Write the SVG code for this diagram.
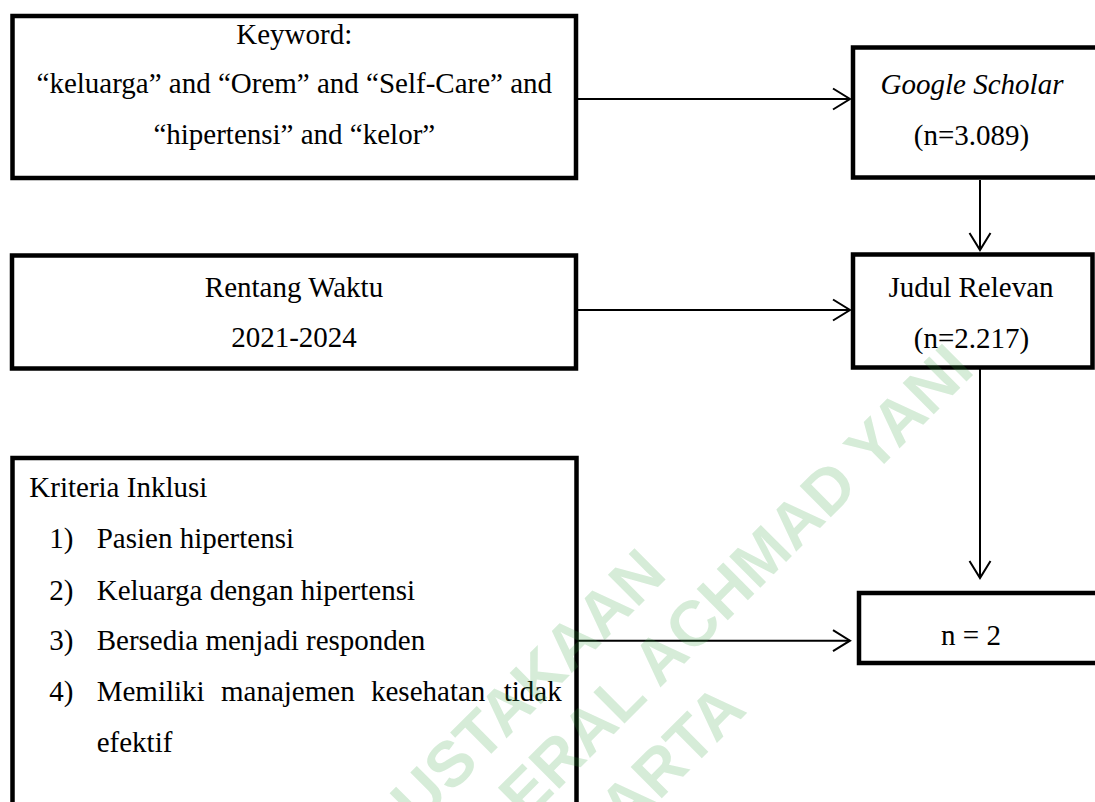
<svg xmlns="http://www.w3.org/2000/svg" width="1095" height="802" viewBox="0 0 1095 802">
<style>
.box{fill:none;stroke:#000;stroke-width:4.5}
.t{font-family:"Liberation Serif","Times New Roman",serif;font-size:29px;fill:#000}
.c{text-anchor:middle}
.conn{fill:none;stroke:#000;stroke-width:2}
.wm{font-family:"Liberation Sans",Arial,sans-serif;font-weight:bold;font-size:64px;fill:rgb(50,160,60);fill-opacity:0.2}
</style>
<defs>
<marker id="arr" markerUnits="userSpaceOnUse" markerWidth="24" markerHeight="26" refX="18" refY="12" orient="auto" overflow="visible">
<path d="M1,1.5 L18,12 L1,22.5" fill="none" stroke="#000" stroke-width="2"/>
</marker>
</defs>
<rect width="1095" height="802" fill="#fff"/>
<g id="connectors">
<path class="conn" d="M576,99 H850" marker-end="url(#arr)"/>
<path class="conn" d="M576,310 H850" marker-end="url(#arr)"/>
<path class="conn" d="M576.5,640.7 H850" marker-end="url(#arr)"/>
<path class="conn" d="M980,180 V250" marker-end="url(#arr)"/>
<path class="conn" d="M980,368 V578" marker-end="url(#arr)"/>
</g>
<g id="keyword">
<rect class="box" x="12.5" y="16" width="563.5" height="162"/>
<text class="t c" x="294.3" y="44">Keyword:</text>
<text class="t c" x="294.3" y="93.3">“keluarga” and “Orem” and “Self-Care” and</text>
<text class="t c" x="294.3" y="144">“hipertensi” and “kelor”</text>
</g>
<g id="rentang">
<rect class="box" x="12" y="255.5" width="564" height="113"/>
<text class="t c" x="294" y="296.7">Rentang Waktu</text>
<text class="t c" x="294" y="347.3">2021-2024</text>
</g>
<g id="kriteria">
<rect class="box" x="12.5" y="458" width="564" height="360"/>
<text class="t" x="29.3" y="497.3">Kriteria Inklusi</text>
<text class="t" x="49.3" y="548.3">1)</text>
<text class="t" x="96.7" y="548.3">Pasien hipertensi</text>
<text class="t" x="49.3" y="600">2)</text>
<text class="t" x="96.7" y="600">Keluarga dengan hipertensi</text>
<text class="t" x="49.3" y="650">3)</text>
<text class="t" x="96.7" y="650">Bersedia menjadi responden</text>
<text class="t" x="49.3" y="701">4)</text>
<text class="t" y="701"><tspan x="96.7">Memiliki</tspan><tspan x="221">manajemen</tspan><tspan x="371">kesehatan</tspan><tspan x="503.7">tidak</tspan></text>
<text class="t" x="96.7" y="751.7">efektif</text>
</g>
<g id="google">
<rect class="box" x="853" y="47.5" width="250" height="130"/>
<text class="t c" x="972" y="93.5" font-style="italic">Google Scholar</text>
<text class="t c" x="971.5" y="145">(n=3.089)</text>
</g>
<g id="judul">
<rect class="box" x="853" y="254.5" width="239.5" height="113"/>
<text class="t c" x="971" y="296.7">Judul Relevan</text>
<text class="t c" x="971.5" y="348">(n=2.217)</text>
</g>
<g id="hasil">
<rect class="box" x="859" y="593" width="250" height="70"/>
<text class="t c" x="971" y="645">n = 2</text>
</g>
<g id="watermark">
<text class="wm" transform="translate(418,827) rotate(-45)">USTAKAAN</text>
<text class="wm" transform="translate(526,822) rotate(-45)">ERAL ACHMAD YANI</text>
<text class="wm" transform="translate(626,834) rotate(-45)">ARTA</text>
</g>
</svg>
